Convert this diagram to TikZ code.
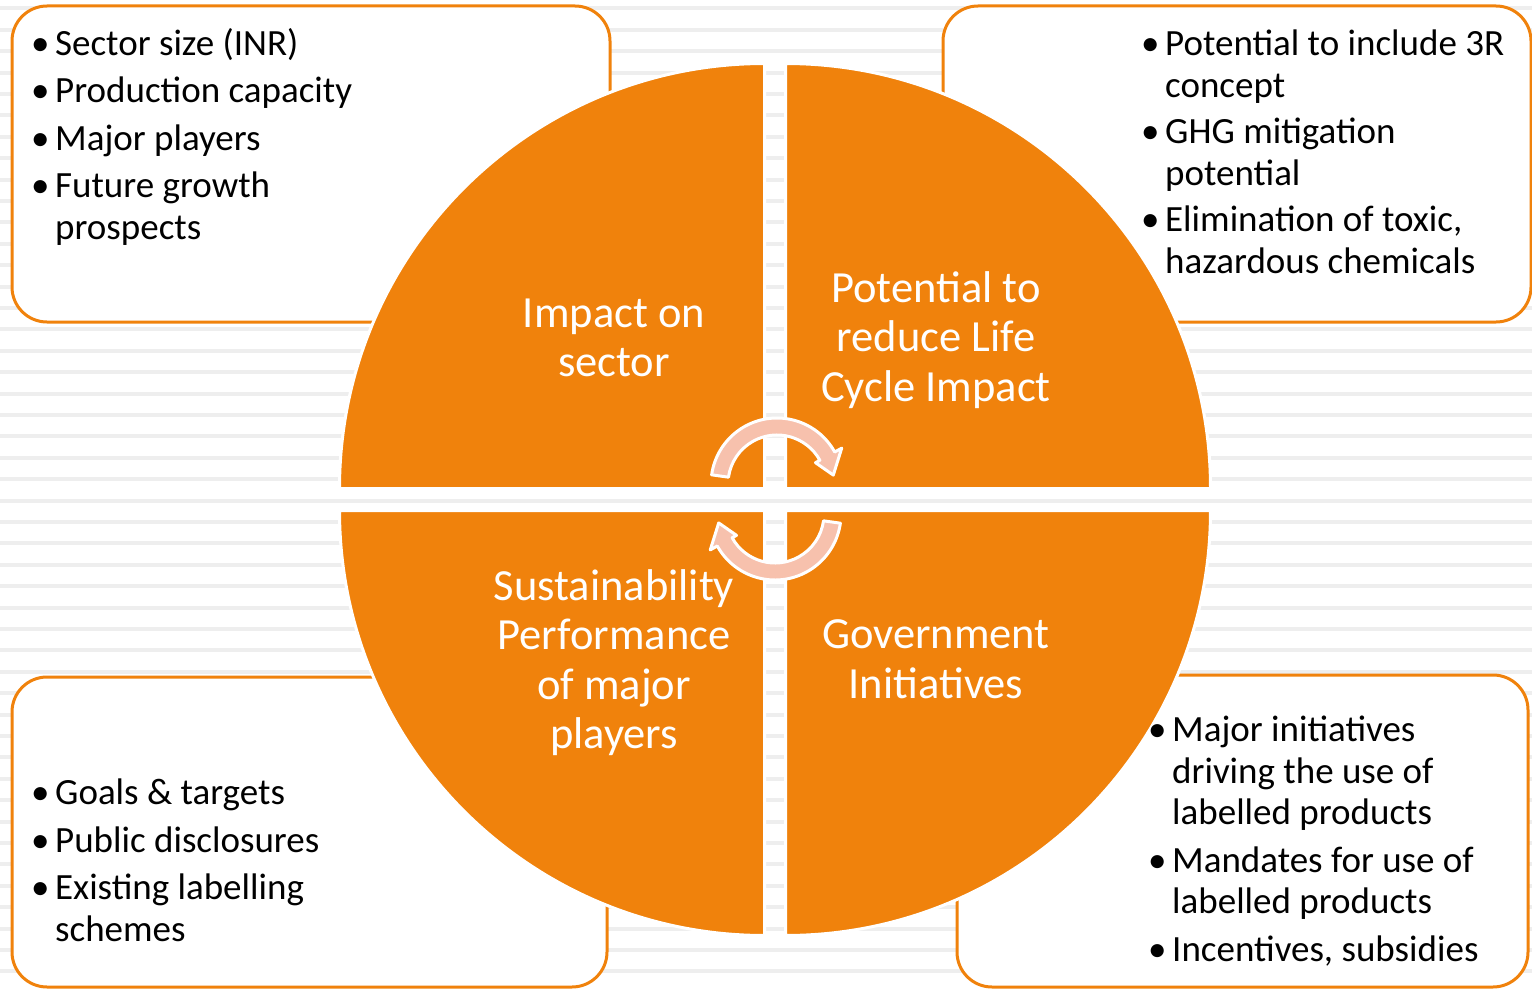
\documentclass[tikz,border=0pt]{standalone}
\usepackage{fontspec}
\setmainfont{Carlito}
\definecolor{org}{RGB}{240,130,12}
\definecolor{pinkarr}{RGB}{247,193,173}
\definecolor{stripe}{RGB}{238,238,238}
\newcommand\bl{\makebox[24pt][l]{•}}
\newcommand\ind{\hspace*{24pt}}
\begin{document}
\begin{tikzpicture}[x=1pt,y=-1pt,
  box/.style={draw=org, line width=3pt, fill=white, rounded corners=35pt},
  quad/.style={fill=org, draw=white, line width=3pt},
  cyc/.style={fill=pinkarr, draw=white, line width=3pt, line join=round},
  blist/.style={anchor=base west, inner sep=0pt, align=left, font=\fontsize{37}{41.5}\selectfont},
  wlabel/.style={text=white, align=center, font=\fontsize{44.5}{49.5}\selectfont, inner sep=0pt}]
\useasboundingbox (0,0) rectangle (1532,990);
\foreach \k in {-19,...,26} \fill[stripe] (0,{415+21.4*\k-2}) rectangle (1532,{415+21.4*\k+2});
% boxes
\draw[box] (12,6) rectangle (610,322);
\draw[box] (943,6) rectangle (1531,322);
\draw[box] (12,677) rectangle (607,987);
\draw[box] (957,675) rectangle (1528,987);
% quadrants
\draw[quad] (764.5,488.5) -- (339.5,488.5) arc[start angle=180,end angle=270,radius=425] -- cycle;
\draw[quad] (785.5,488.5) -- (785.5,63.5) arc[start angle=270,end angle=360,radius=425] -- cycle;
\draw[quad] (785.5,510.5) -- (1210.5,510.5) arc[start angle=0,end angle=90,radius=425] -- cycle;
\draw[quad] (764.5,510.5) -- (764.5,935.5) arc[start angle=90,end angle=180,radius=425] -- cycle;
% cycle arrows
\begin{scope}[shift={(777,484)}]
\draw[cyc] (188:66) arc[start angle=188,end angle=331,radius=66] -- (331:74) -- (351:57) -- (331:44) -- (331:49) arc[start angle=331,end angle=188,radius=49] -- cycle;
\end{scope}
\begin{scope}[shift={(775,514)}]
\draw[cyc] (8:66) arc[start angle=8,end angle=151,radius=66] -- (151:74) -- (171:57) -- (151:44) -- (151:49) arc[start angle=151,end angle=8,radius=49] -- cycle;
\end{scope}
% box texts (anchored at the baseline of their last line)
\node[blist] (tl) at (31,239) {\bl Sector size (INR)\\[6pt]\bl Production capacity\\[6pt]\bl Major players\\[6pt]\bl Future growth\\\ind prospects};
\node[blist] (tr) at (1141,273) {\bl Potential to include 3R\\\ind concept\\[5pt]\bl GHG mitigation\\\ind potential\\[5pt]\bl Elimination of toxic,\\\ind hazardous chemicals};
\node[blist] (bl) at (31,941) {\bl Goals \& targets\\[6pt]\bl Public disclosures\\[6pt]\bl Existing labelling\\\ind schemes};
\node[blist] (br) at (1148,961) {\bl Major initiatives\\\ind driving the use of\\\ind labelled products\\[6pt]\bl Mandates for use of\\\ind labelled products\\[6pt]\bl Incentives, subsidies};
% quadrant labels
\node[wlabel] (q1) at (614,338) {Impact on\\sector};
\node[wlabel] (q2) at (936,340) {Potential to\\reduce Life\\Cycle Impact};
\node[wlabel] (q3) at (614,662.5) {Sustainability\\Performance\\of major\\players};
\node[wlabel] (q4) at (936,659) {Government\\Initiatives};
\end{tikzpicture}
\end{document}
